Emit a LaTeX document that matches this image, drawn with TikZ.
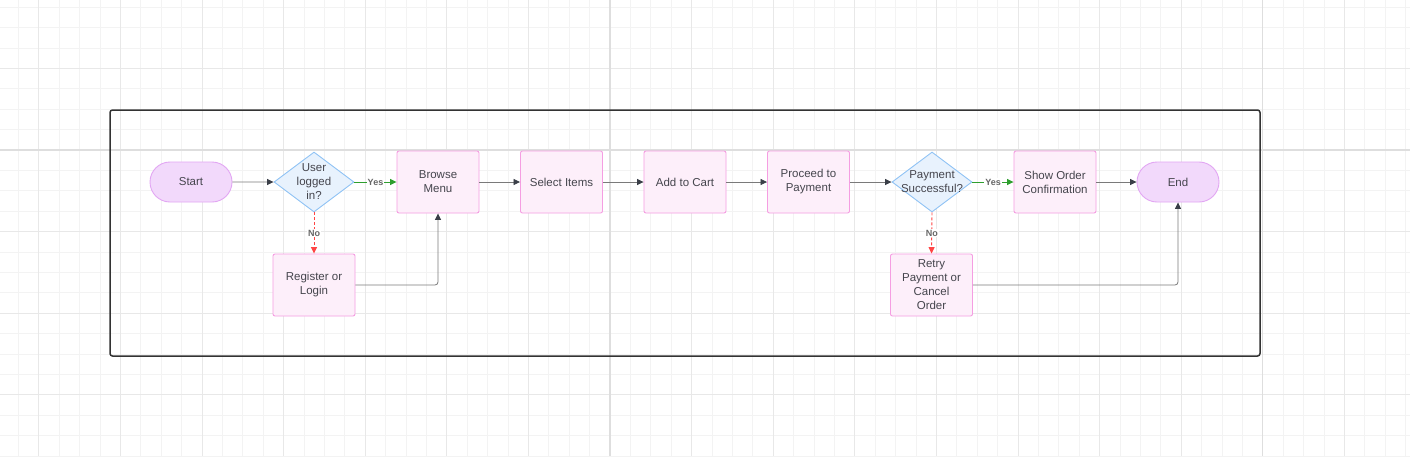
\documentclass[tikz,border=0pt]{standalone}
\usepackage{fontspec}
\setmainfont{Liberation Sans}
\usetikzlibrary{shapes.geometric,shapes.misc,arrows.meta}
\definecolor{gminor}{HTML}{F3F3F3}
\definecolor{gmajor}{HTML}{E8E8E8}
\definecolor{gsuper}{HTML}{DEDEDE}
\definecolor{termfill}{HTML}{F2D9FB}
\definecolor{termdraw}{HTML}{E2A6F3}
\definecolor{decfill}{HTML}{E8F2FD}
\definecolor{decdraw}{HTML}{90C3F5}
\definecolor{boxfill}{HTML}{FDEFFA}
\definecolor{boxdraw}{HTML}{F59EE2}
\definecolor{txt}{HTML}{45454D}
\definecolor{edgegray}{HTML}{7A7A7A}
\definecolor{headgray}{HTML}{3A3F48}
\definecolor{yesgreen}{HTML}{2E9E2E}
\definecolor{nored}{HTML}{FF4545}
\definecolor{framecol}{HTML}{333333}
\tikzset{
  base/.style={font=\fontsize{11.5}{14}\selectfont, text=txt, align=center, line width=0.9pt},
  term/.style={base, rounded rectangle, fill=termfill, draw=termdraw, minimum width=82pt, minimum height=40pt, inner sep=0pt},
  decision/.style={base, diamond, aspect=1.333, fill=decfill, draw=decdraw, minimum width=80pt, minimum height=60pt, inner sep=0pt},
  dtext/.style={font=\fontsize{11.5}{14}\selectfont, text=txt, align=center, inner sep=0pt},
  procbox/.style={base, rectangle, rounded corners=2pt, fill=boxfill, draw=boxdraw, minimum width=82pt, minimum height=62pt, inner sep=1pt},
  frame/.style={draw=framecol, line width=1.5pt, rounded corners=2.5pt, minimum width=1150pt, minimum height=246pt},
  flow/.style={draw=edgegray, line width=0.8pt, -{Triangle[length=6.5pt,width=6pt,color=headgray]}},
  yesflow/.style={draw=yesgreen, line width=0.9pt, -{Triangle[length=6.5pt,width=6pt,color=yesgreen]}},
  noflow/.style={draw=nored, line width=0.9pt, dash pattern=on 3pt off 2pt, -{Triangle[length=6.5pt,width=6pt,color=nored]}},
  elabel/.style={font=\fontsize{9}{10}\selectfont\bfseries, text=gray!80!black, fill=white, inner sep=0.8pt},
  minorgrid/.style={draw=gminor, line width=0.9pt},
  majorgrid/.style={draw=gmajor, line width=1pt},
  supergrid/.style={draw=gsuper, line width=1.2pt},
}
\begin{document}
\begin{tikzpicture}[x=1pt,y=-1pt]
\useasboundingbox (0,0) rectangle (1410,456);
\fill[white] (0,0) rectangle (1410,456);
% grid
\foreach \i in {0,...,68} \draw[minorgrid] ({18.4+20.4*\i},0) -- ({18.4+20.4*\i},456);
\foreach \j in {0,...,22} \draw[minorgrid] (0,{7.2+20.4*\j}) -- (1410,{7.2+20.4*\j});
\foreach \i in {1,5,...,65} \draw[majorgrid] ({18.4+20.4*\i},0) -- ({18.4+20.4*\i},456);
\foreach \j in {3,7,...,19} \draw[majorgrid] (0,{7.2+20.4*\j}) -- (1410,{7.2+20.4*\j});
\draw[supergrid] (610,0) -- (610,456);
\draw[supergrid] (1262.8,0) -- (1262.8,456);
\draw[supergrid] (0,150) -- (1410,150);
% frame
\node[frame] (box) at (685,233) {};
% nodes
\node[term] (start) at (191,182) {Start};
\node[decision] (q1) at (314,182) {};
\node[dtext] (q1t) at (q1) {User\\logged\\in?};
\node[procbox] (browse) at (438,182) {Browse\\Menu};
\node[procbox] (select) at (561.5,182) {Select Items};
\node[procbox] (cart) at (685,182) {Add to Cart};
\node[procbox] (proceed) at (808.5,182) {Proceed to\\Payment};
\node[decision] (q2) at (932,182) {};
\node[dtext] (q2t) at (q2) {Payment\\Successful?};
\node[procbox] (confirm) at (1055,182) {Show Order\\Confirmation};
\node[term] (end) at (1178,182) {End};
\node[procbox] (register) at (314,285) {Register or\\Login};
\node[procbox] (retry) at (931.5,285) {Retry\\Payment or\\Cancel\\Order};
% edges
\draw[flow] (start) -- (q1);
\draw[yesflow] (q1) -- node[elabel] {Yes} (browse);
\draw[noflow] (q1) -- node[elabel] {No} (register);
\draw[flow, rounded corners=3pt] (register.east) -| (browse.south);
\draw[flow] (browse) -- (select);
\draw[flow] (select) -- (cart);
\draw[flow] (cart) -- (proceed);
\draw[flow] (proceed) -- (q2);
\draw[yesflow] (q2) -- node[elabel] {Yes} (confirm);
\draw[noflow] (q2.south) -- node[elabel] {No} (retry.north);
\draw[flow] (confirm) -- (end);
\draw[flow, rounded corners=3pt] (retry.east) -| (end.south);
\end{tikzpicture}
\end{document}
